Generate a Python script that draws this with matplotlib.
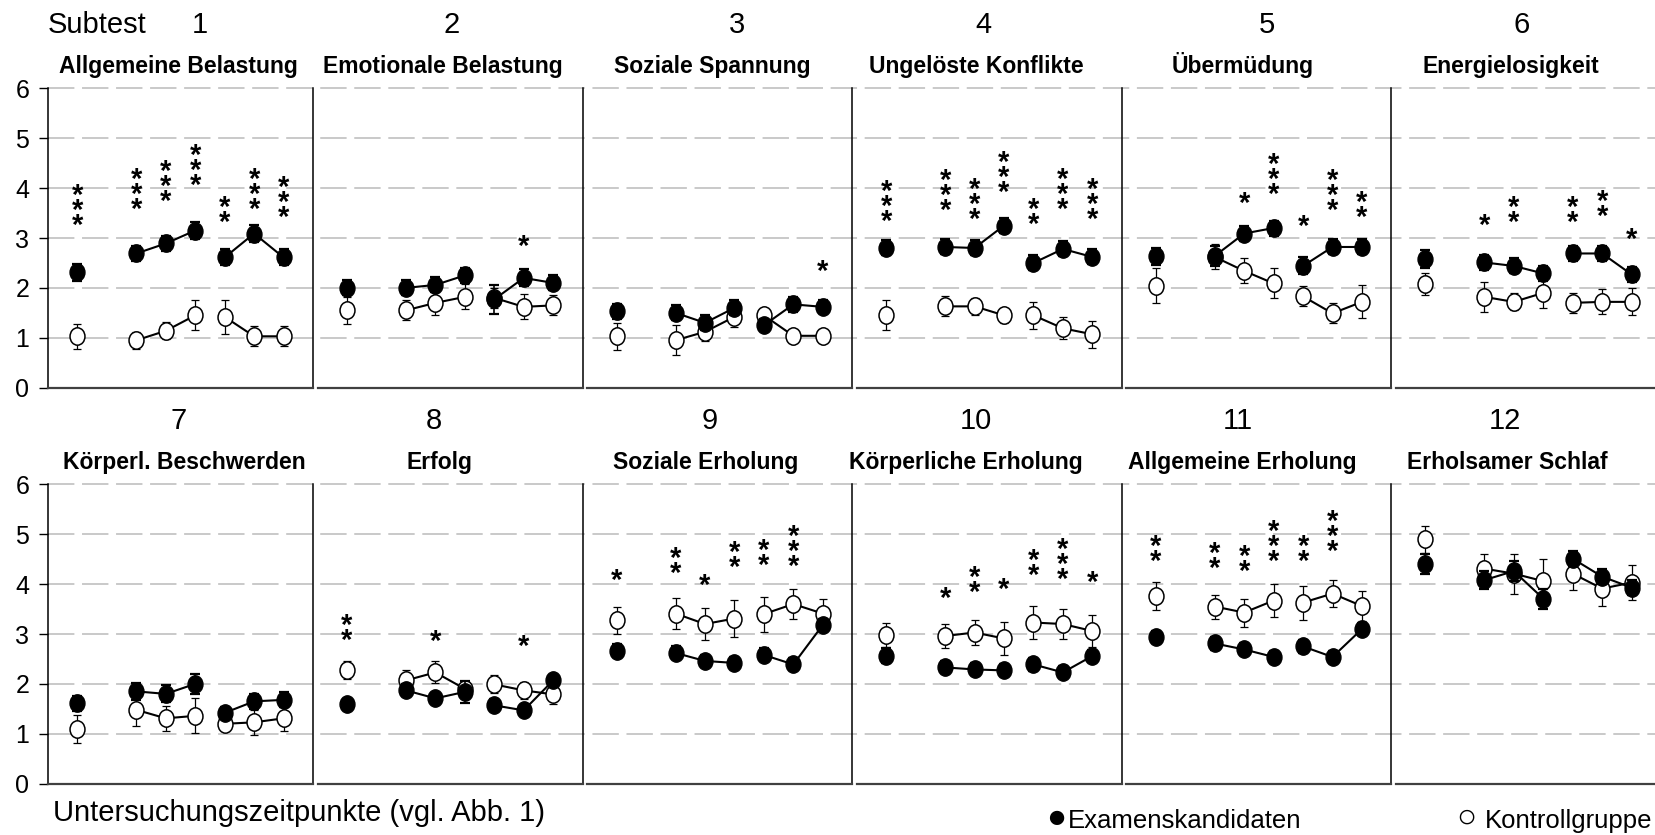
import numpy as np
import matplotlib.pyplot as plt
from matplotlib.path import Path
from matplotlib.transforms import Affine2D

plt.rcParams['font.family'] = ['Liberation Sans', 'DejaVu Sans']
plt.rcParams['lines.scale_dashes'] = False

# Daten
titel = ['Allgemeine Belastung', 'Emotionale Belastung', 'Soziale Spannung',
         'Ungelöste Konflikte', 'Übermüdung', 'Energielosigkeit',
         'Körperl. Beschwerden', 'Erfolg', 'Soziale Erholung',
         'Körperliche Erholung', 'Allgemeine Erholung', 'Erholsamer Schlaf']
subtest = [str(i) for i in range(1, 13)]
zeitpunkte = np.array([1, 3, 4, 5, 6, 7, 8])
gruppen = [[0], [1, 2, 3], [4, 5, 6]]   # verbundene Messzeitpunkte

# Examenskandidaten (gefuellte Kreise)
exam = [
    [2.31, 2.69, 2.89, 3.15, 2.61, 3.09, 2.61],
    [2.00, 2.00, 2.06, 2.25, 1.77, 2.20, 2.10],
    [1.53, 1.50, 1.30, 1.60, 1.25, 1.67, 1.62],
    [2.80, 2.82, 2.80, 3.25, 2.50, 2.78, 2.62],
    [2.63, 2.64, 3.09, 3.20, 2.44, 2.82, 2.82],
    [2.57, 2.51, 2.44, 2.29, 2.69, 2.69, 2.27],
    [1.61, 1.85, 1.80, 2.00, 1.42, 1.65, 1.68],
    [1.60, 1.87, 1.71, 1.84, 1.57, 1.47, 2.07],
    [2.66, 2.62, 2.46, 2.42, 2.58, 2.39, 3.18],
    [2.56, 2.33, 2.29, 2.27, 2.39, 2.23, 2.56],
    [2.94, 2.81, 2.69, 2.54, 2.75, 2.54, 3.10],
    [4.41, 4.08, 4.26, 3.71, 4.51, 4.15, 3.93],
]
exam_err = [
    [0.17, 0.15, 0.16, 0.17, 0.16, 0.18, 0.16],
    [0.15, 0.15, 0.15, 0.15, 0.29, 0.17, 0.15],
    [0.15, 0.15, 0.15, 0.15, 0.12, 0.15, 0.13],
    [0.15, 0.15, 0.15, 0.15, 0.15, 0.15, 0.15],
    [0.17, 0.20, 0.15, 0.15, 0.17, 0.15, 0.15],
    [0.18, 0.15, 0.15, 0.15, 0.15, 0.15, 0.15],
    [0.15, 0.17, 0.17, 0.20, 0.12, 0.15, 0.15],
    [0.10, 0.12, 0.10, 0.22, 0.12, 0.10, 0.10],
    [0.13, 0.13, 0.12, 0.12, 0.13, 0.12, 0.12],
    [0.15, 0.12, 0.12, 0.12, 0.13, 0.12, 0.12],
    [0.13, 0.13, 0.12, 0.12, 0.13, 0.12, 0.13],
    [0.20, 0.18, 0.20, 0.20, 0.15, 0.15, 0.15],
]

# Kontrollgruppe (offene Kreise)
kontroll = [
    [1.03, 0.95, 1.14, 1.45, 1.42, 1.03, 1.03],
    [1.55, 1.55, 1.70, 1.82, 1.80, 1.62, 1.65],
    [1.03, 0.95, 1.12, 1.42, 1.45, 1.04, 1.04],
    [1.45, 1.63, 1.63, 1.45, 1.45, 1.19, 1.07],
    [2.04, 2.62, 2.34, 2.09, 1.83, 1.49, 1.72],
    [2.07, 1.82, 1.72, 1.90, 1.70, 1.72, 1.72],
    [1.09, 1.48, 1.31, 1.36, 1.20, 1.23, 1.31],
    [2.27, 2.07, 2.23, 1.90, 1.99, 1.87, 1.79],
    [3.28, 3.41, 3.20, 3.31, 3.40, 3.60, 3.41],
    [2.98, 2.96, 3.03, 2.91, 3.23, 3.20, 3.06],
    [3.76, 3.55, 3.43, 3.67, 3.63, 3.81, 3.56],
    [4.90, 4.31, 4.21, 4.06, 4.21, 3.91, 4.03],
]
kontroll_err = [
    [0.25, 0.17, 0.17, 0.30, 0.34, 0.20, 0.20],
    [0.27, 0.20, 0.25, 0.25, 0.20, 0.25, 0.20],
    [0.27, 0.30, 0.18, 0.20, 0.15, 0.12, 0.12],
    [0.30, 0.20, 0.17, 0.15, 0.27, 0.22, 0.27],
    [0.35, 0.25, 0.25, 0.30, 0.20, 0.20, 0.33],
    [0.22, 0.30, 0.17, 0.30, 0.20, 0.25, 0.27],
    [0.28, 0.33, 0.25, 0.35, 0.15, 0.25, 0.25],
    [0.18, 0.20, 0.22, 0.15, 0.18, 0.17, 0.20],
    [0.27, 0.31, 0.32, 0.38, 0.35, 0.30, 0.30],
    [0.24, 0.25, 0.25, 0.33, 0.33, 0.31, 0.32],
    [0.28, 0.24, 0.28, 0.33, 0.34, 0.27, 0.30],
    [0.27, 0.30, 0.40, 0.45, 0.33, 0.35, 0.35],
]

# Signifikanzsterne: Anzahl und Hoehe des untersten Sterns
sterne = [
    [3, 3, 3, 3, 2, 3, 3],
    [0, 0, 0, 0, 0, 1, 0],
    [0, 0, 0, 0, 0, 0, 1],
    [3, 3, 3, 3, 2, 3, 3],
    [0, 0, 1, 3, 1, 3, 2],
    [0, 1, 2, 0, 2, 2, 1],
    [0, 0, 0, 0, 0, 0, 0],
    [2, 0, 1, 0, 0, 1, 0],
    [1, 2, 1, 2, 2, 3, 0],
    [0, 1, 2, 1, 2, 3, 1],
    [2, 2, 2, 3, 2, 3, 0],
    [0, 0, 0, 0, 0, 0, 0],
]
nan = np.nan
sterne_y = [
    [3.42, 3.75, 3.90, 4.22, 3.49, 3.75, 3.59],
    [nan, nan, nan, nan, nan, 2.99, nan],
    [nan, nan, nan, nan, nan, nan, 2.49],
    [3.50, 3.72, 3.55, 4.09, 3.45, 3.75, 3.55],
    [nan, nan, 3.87, 4.05, 3.40, 3.72, 3.59],
    [nan, 3.42, 3.49, nan, 3.49, 3.61, 3.13],
    [nan] * 7,
    [3.04, nan, 3.01, nan, nan, 2.91, nan],
    [4.25, 4.38, 4.15, 4.50, 4.54, 4.52, nan],
    [nan, 3.89, 4.00, 4.07, 4.35, 4.26, 4.21],
    [4.62, 4.48, 4.42, 4.62, 4.63, 4.83, nan],
    [nan] * 7,
]

#####################################################################
# Layout (Pixel der Vorlage)
W, H = 1655, 835
px0, pitch, pw = 48, 269.6, 265      # Panelbreite und Abstand
row_top = [88.3, 484.3]              # y=6 Linie jeder Zeile
ph = 299.4
titel_x = [178, 443, 712, 976, 1243, 1511, 184, 440, 706, 966, 1242, 1507]
nummer_x = [200, 452, 737, 983, 1267, 1522, 179, 434, 710, 976, 1238, 1505]


def fax(x, y, w, h):
    return [x / W, 1 - (y + h) / H, w / W, h / H]


ellipse = Path.unit_circle().transformed(Affine2D().scale(0.86, 1.0))

fig = plt.figure(figsize=(W / 100, H / 100), dpi=100)

# gestrichelte Gitterlinien durchgehend ueber die Zeile
for r in range(2):
    bg = fig.add_axes(fax(px0, row_top[r], W - px0, ph))
    bg.set_xlim(0, 1)
    bg.set_ylim(0, 6)
    bg.axis('off')
    for yy in range(1, 7):
        bg.axhline(yy, color='#c0c0c0', lw=1.2, dashes=(19, 5.5), clip_on=False)

fs_stern = 21
stern_abstand = 0.275                 # Datenabstand gestapelter Sterne
px_pro_einheit = ph / 6
# Zeilenabstand so, dass die Sterne eng uebereinander stehen
zeilen = stern_abstand * px_pro_einheit / (1.155 * fs_stern * 100 / 72)

for i in range(12):
    r, c = divmod(i, 6)
    ax = fig.add_axes(fax(px0 + c * pitch, row_top[r], pw, ph))
    ax.set_xlim(0, 9)
    ax.set_ylim(0, 6)
    ax.patch.set_visible(False)
    ax.spines['top'].set_visible(False)
    ax.spines['left'].set_visible(c == 0)
    ax.spines['left'].set_linewidth(1.1)
    ax.spines['right'].set_linewidth(1.1)
    ax.spines['bottom'].set_linewidth(1.6)
    ax.spines['bottom'].set_color('#404040')
    ax.set_xticks([])
    if c == 0:
        ax.set_yticks(range(7))
        ax.tick_params(axis='y', direction='out', length=6.5, width=1, pad=7, labelsize=18)
    else:
        ax.set_yticks([])

    k = np.array(kontroll[i])
    e = np.array(exam[i])
    for g in gruppen:
        ax.plot(zeitpunkte[g], k[g], '-', color='k', lw=1.5, zorder=3)
    ax.errorbar(zeitpunkte, k, yerr=kontroll_err[i], fmt='none', ecolor='k',
                elinewidth=0.9, capsize=3.2, capthick=0.9, zorder=3)
    ax.plot(zeitpunkte, k, ls='none', marker=ellipse, ms=12.5, mfc='white',
            mec='k', mew=1.1, zorder=4)
    for g in gruppen:
        ax.plot(zeitpunkte[g], e[g], '-', color='k', lw=1.5, zorder=5)
    ax.errorbar(zeitpunkte, e, yerr=exam_err[i], fmt='none', ecolor='k',
                elinewidth=1.2, capsize=3.4, capthick=1.6, zorder=5)
    ax.plot(zeitpunkte, e, ls='none', marker=ellipse, ms=12.5, mfc='k',
            mec='k', mew=1.0, zorder=6)

    # Sterne als ein Text je Zeitpunkt, Grundlinie = unterster Stern
    for j, n in enumerate(sterne[i]):
        if n == 0:
            continue
        ax.annotate('\n'.join(['*'] * n), (zeitpunkte[j], sterne_y[i][j]),
                    xytext=(0, -0.58 * fs_stern), textcoords='offset points',
                    ha='center', va='baseline', fontsize=fs_stern,
                    fontweight='bold', linespacing=zeilen, multialignment='center')

# Beschriftungen
ov = fig.add_axes([0, 0, 1, 1])
ov.set_xlim(0, W)
ov.set_ylim(H, 0)
ov.axis('off')
ov.text(48, 33.3, 'Subtest', fontsize=21, ha='left', va='baseline')
for i in range(12):
    r = i // 6
    ov.text(nummer_x[i], 33.3 + 396 * r, subtest[i], fontsize=21, ha='center', va='baseline')
    ov.text(titel_x[i], 73.3 + 396 * r, titel[i], fontsize=16.5, fontweight='bold',
            ha='center', va='baseline')
ov.text(53, 821, 'Untersuchungszeitpunkte (vgl. Abb. 1)', fontsize=21, ha='left', va='baseline')

# Legende: Kreissymbol etwas groesser als der Text
ov.text(1046, 827, '●', fontsize=24, ha='left', va='baseline')
ov.text(1068, 828, 'Examenskandidaten', fontsize=18.5, ha='left', va='baseline')
ov.text(1456, 827, '○', fontsize=24, ha='left', va='baseline')
ov.text(1652, 828, 'Kontrollgruppe', fontsize=18.5, ha='right', va='baseline')

fig.savefig('out.png', dpi=100)
